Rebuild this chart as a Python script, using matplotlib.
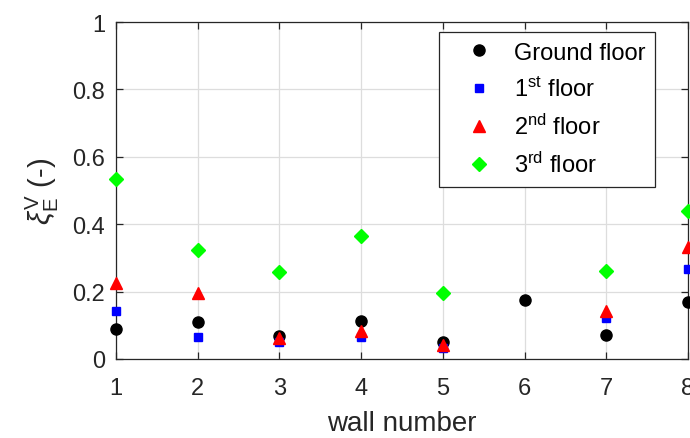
import numpy as np
import matplotlib
matplotlib.use("Agg")
import matplotlib.pyplot as plt

walls = [1, 2, 3, 4, 5, 6, 7, 8]
ground = [0.089, 0.109, 0.067, 0.112, 0.049, 0.175, 0.071, 0.168]
first = [0.141, 0.066, 0.051, 0.064, 0.032, np.nan, 0.121, 0.267]
second = [0.227, 0.196, 0.061, 0.084, 0.042, np.nan, 0.141, 0.331]
third = [0.535, 0.324, 0.257, 0.365, 0.196, np.nan, 0.260, 0.440]
labels = ["Ground floor", r"1$^{\mathrm{st}}$ floor", r"2$^{\mathrm{nd}}$ floor", r"3$^{\mathrm{rd}}$ floor"]
xticks = [1, 2, 3, 4, 5, 6, 7, 8]
yticks = [0, 0.2, 0.4, 0.6, 0.8, 1]
ytick_labels = ["0", "0.2", "0.4", "0.6", "0.8", "1"]

plt.rcParams['font.family'] = ['Liberation Sans', 'DejaVu Sans']
plt.rcParams['mathtext.fontset'] = 'custom'
plt.rcParams['mathtext.rm'] = 'Liberation Sans'
plt.rcParams['mathtext.it'] = 'Liberation Sans:italic'
plt.rcParams['mathtext.bf'] = 'Liberation Sans:bold'

fig = plt.figure(figsize=(6.9, 4.39), dpi=100)
ax = fig.add_axes([116/690, 79/439, 572/690, 337/439])

ax.plot(walls, ground, 'o', color='black', markersize=8, linestyle='none', clip_on=False, label=labels[0], zorder=3)
ax.plot(walls, first, 's', color='#0000ff', markersize=5.5, linestyle='none', clip_on=False, label=labels[1], zorder=3)
ax.plot(walls, second, '^', color='#ff0000', markersize=8.5, linestyle='none', clip_on=False, label=labels[2], zorder=3)
ax.plot(walls, third, 'D', color='#00ff00', markersize=7, linestyle='none', clip_on=False, label=labels[3], zorder=3)

ax.set_xlim(1, 8)
ax.set_ylim(0, 1)
ax.set_xticks(xticks)
ax.set_xticklabels([str(x) for x in xticks])
ax.set_yticks(yticks)
ax.set_yticklabels(ytick_labels)
ax.grid(True, color='#dddddd', linewidth=0.9)
ax.set_axisbelow(True)
ax.tick_params(direction='in', top=True, right=True, length=5, width=0.9,
               labelsize=17, colors='#262626')
ax.tick_params(axis='y', pad=8)
ax.tick_params(axis='x', pad=13)
for s in ax.spines.values():
    s.set_color('#262626')
    s.set_linewidth(0.9)

ax.set_xlabel("wall number", fontsize=20, color='#262626', labelpad=8)
ax.set_ylabel(r"$\xi_{\mathrm{E}}^{\mathrm{V}}$ (-)", fontsize=21, color='#262626', labelpad=8)

leg = ax.legend(loc='upper left', bbox_to_anchor=(0.565, 0.970), fontsize=17,
                frameon=True, fancybox=False, edgecolor='#262626', framealpha=1,
                borderpad=0.4, labelspacing=0.55, handletextpad=0.24, handlelength=2.54,
                borderaxespad=0)
leg.get_frame().set_linewidth(0.9)

fig.savefig("out.png", dpi=100)
